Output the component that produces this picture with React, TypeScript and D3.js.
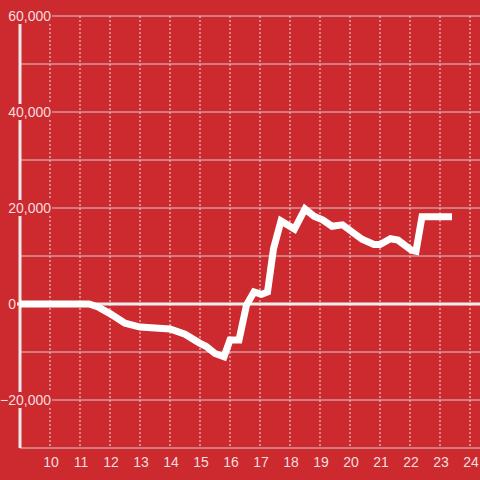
import React from "react";
import * as d3 from "d3";

const hours = [9, 11.3, 11.6, 12, 12.5, 13, 13.5, 14, 14.5, 15, 15.2, 15.5, 15.8, 16.0, 16.3, 16.55, 16.8, 17.05, 17.25, 17.45, 17.7, 18.15, 18.5, 18.8, 19.1, 19.4, 19.75, 20.4, 20.8, 21.0, 21.35, 21.6, 22.05, 22.2, 22.4, 23.4];
const values = [0, 0, -600, -2000, -4000, -4800, -5000, -5200, -6300, -8200, -8800, -10300, -11000, -7500, -7500, -200, 2500, 2000, 2500, 11500, 17300, 15600, 19800, 18300, 17500, 16200, 16500, 13500, 12400, 12400, 13600, 13300, 11200, 11000, 18200, 18200];
const xTicks = [10, 11, 12, 13, 14, 15, 16, 17, 18, 19, 20, 21, 22, 23, 24];
const yGrid = [60000, 50000, 40000, 30000, 20000, 10000, 0, -10000, -20000, -30000];
const yLabels = [60000, 40000, 20000, 0, -20000];

const W = 480, H = 480;
const BG = "#cc2a2f";
const TXT = "#f3dede";

export default function App() {
  const x = d3.scaleLinear().domain([9, 24]).range([20, 470]);
  const y = d3.scaleLinear().domain([-30000, 60000]).range([448, 16]);
  const data = hours.map((h, i) => [h, values[i]] as [number, number]);
  const line = d3.line<[number, number]>().x(d => x(d[0])).y(d => y(d[1]));
  const fmt = d3.format(",");
  return (
    <svg width={W} height={H} style={{ position: "absolute", left: 0, top: 0 }} fontFamily="Liberation Sans, Arial, sans-serif">
      <rect x={0} y={0} width={W} height={H} fill={BG} />
      {xTicks.map(t => (
        <line key={"v" + t} x1={x(t)} x2={x(t)} y1={y(60000)} y2={y(-30000)} stroke="#e6dede" strokeWidth={1} strokeDasharray="2,2" />
      ))}
      {yGrid.filter(v => v !== 0).map(v => (
        <line key={"h" + v} x1={x(9)} x2={W} y1={y(v)} y2={y(v)} stroke="#d4cfcf" strokeWidth={1} />
      ))}
      <line x1={x(9)} x2={x(9)} y1={24} y2={y(-30000)} stroke="#f0eaea" strokeWidth={3} />
      <line x1={17} x2={W} y1={y(0)} y2={y(0)} stroke="#f3eeee" strokeWidth={3} />
      {yLabels.map(v => {
        const s = fmt(v);
        const w = s.length * 7.6 + 4;
        return (
          <g key={"yl" + v}>
            <rect x={52 - w} y={y(v) - 8} width={v === 0 ? 0 : w} height={16} fill={BG} />
            <text x={v === 0 ? 16 : 51} y={y(v) + 5} textAnchor="end" fontSize={14} fill={TXT}>{s}</text>
          </g>
        );
      })}
      <path d={line(data) || ""} fill="none" stroke="#ffffff" strokeWidth={7} strokeLinejoin="miter" />
      {xTicks.map(t => (
        <text key={"xl" + t} x={x(t) + 1} y={467} textAnchor="middle" fontSize={14} fill={TXT}>{t}</text>
      ))}
    </svg>
  );
}
